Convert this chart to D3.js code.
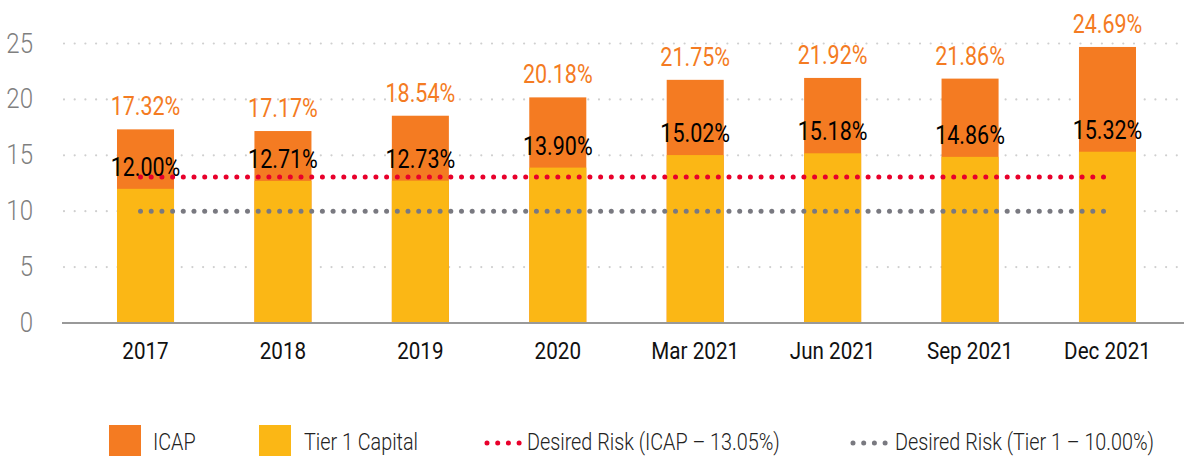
<!DOCTYPE html>
<html><head><meta charset="utf-8">
<script src="https://cdn.jsdelivr.net/npm/d3@7"></script>
<style>
html,body{margin:0;padding:0;background:#fff;}
svg{display:block;font-family:Roboto,"Noto Sans",sans-serif;}
</style></head>
<body>
<svg id="chart" width="1184" height="456"></svg>
<script>
const categories = ["2017","2018","2019","2020","Mar 2021","Jun 2021","Sep 2021","Dec 2021"];
const icap = [17.32,17.17,18.54,20.18,21.75,21.92,21.86,24.69];
const tier1 = [12.00,12.71,12.73,13.90,15.02,15.18,14.86,15.32];
const desiredIcap = 13.05;
const desiredTier1 = 10.00;
const yTicks = [0,5,10,15,20,25];
const legendLabels = ["ICAP","Tier 1 Capital","Desired Risk (ICAP \u2013 13.05%)","Desired Risk (Tier 1 \u2013 10.00%)"];

const C_ORANGE = "#F47B22", C_YELLOW = "#FBB715", C_RED = "#E8002B", C_GRAY = "#797980";
const K = 0.86; // condensed
const svg = d3.select("#chart");

const x = d3.scaleBand().domain(categories).range([76.8, 1176.2]).paddingInner(0.585).paddingOuter(0.2925);
const y = d3.scaleLinear().domain([0,25]).range([323,43.5]);
const cx = c => x(c) + x.bandwidth()/2;

function txt(g, s, tx, ty, opts){
  return g.append("text")
    .attr("transform", `translate(${tx},${ty}) scale(${K},1)`)
    .attr("text-anchor", opts.anchor || "middle")
    .attr("font-size", opts.size)
    .attr("font-weight", opts.weight || 400)
    .attr("fill", opts.fill)
    .text(s);
}

// grid
const grid = svg.append("g");
yTicks.filter(t=>t>0).forEach(t=>{
  grid.append("line").attr("x1",64).attr("x2",1184).attr("y1",y(t)).attr("y2",y(t))
    .attr("stroke","#cfcfcf").attr("stroke-width",2.2).attr("stroke-linecap","round")
    .attr("stroke-dasharray","0 10.7");
});
// y labels
yTicks.forEach(t=> txt(svg, String(t), 33, y(t)+9, {anchor:"end", size:28, weight:300, fill:"#7f7f7f"}));

// bars
const bars = svg.append("g");
categories.forEach((c,i)=>{
  bars.append("rect").attr("x",x(c)).attr("width",x.bandwidth()).attr("y",y(icap[i])).attr("height",y(0)-y(icap[i])).attr("fill",C_ORANGE);
  bars.append("rect").attr("x",x(c)).attr("width",x.bandwidth()).attr("y",y(tier1[i])).attr("height",y(0)-y(tier1[i])).attr("fill",C_YELLOW);
});

// baseline
svg.append("line").attr("x1",62).attr("x2",1184).attr("y1",y(0)).attr("y2",y(0)).attr("stroke","#999").attr("stroke-width",2);

// desired lines
const x0 = cx(categories[0]) - 5, x1 = cx(categories[categories.length-1]) + 5;
[[desiredIcap,C_RED],[desiredTier1,C_GRAY]].forEach(([v,col])=>{
  svg.append("line").attr("x1",x0).attr("x2",x1).attr("y1",y(v)).attr("y2",y(v))
    .attr("stroke",col).attr("stroke-width",5).attr("stroke-linecap","round").attr("stroke-dasharray","0 10.7");
});

// value labels
categories.forEach((c,i)=>{
  txt(svg, icap[i].toFixed(2)+"%", cx(c), y(icap[i])-14, {size:25, fill:C_ORANGE});
  txt(svg, tier1[i].toFixed(2)+"%", cx(c), y(tier1[i])-13, {size:25, fill:"#000"});
  txt(svg, c, cx(c), 359, {size:24, fill:"#111"});
});

// legend
const lg = svg.append("g");
const LB = 450;
lg.append("rect").attr("x",109).attr("y",425).attr("width",32).attr("height",31).attr("fill",C_ORANGE);
txt(lg, legendLabels[0], 153, LB, {anchor:"start", size:23, weight:300, fill:"#222"});
lg.append("rect").attr("x",259).attr("y",425).attr("width",32).attr("height",31).attr("fill",C_YELLOW);
txt(lg, legendLabels[1], 304, LB, {anchor:"start", size:23, weight:300, fill:"#222"});
lg.append("line").attr("x1",487).attr("x2",520).attr("y1",443).attr("y2",443).attr("stroke",C_RED).attr("stroke-width",5).attr("stroke-linecap","round").attr("stroke-dasharray","0 10.7");
txt(lg, legendLabels[2], 527, LB, {anchor:"start", size:23, weight:300, fill:"#222"});
lg.append("line").attr("x1",853).attr("x2",886).attr("y1",443).attr("y2",443).attr("stroke",C_GRAY).attr("stroke-width",5).attr("stroke-linecap","round").attr("stroke-dasharray","0 10.7");
txt(lg, legendLabels[3], 895, LB, {anchor:"start", size:23, weight:300, fill:"#222"});
</script>
</body></html>
